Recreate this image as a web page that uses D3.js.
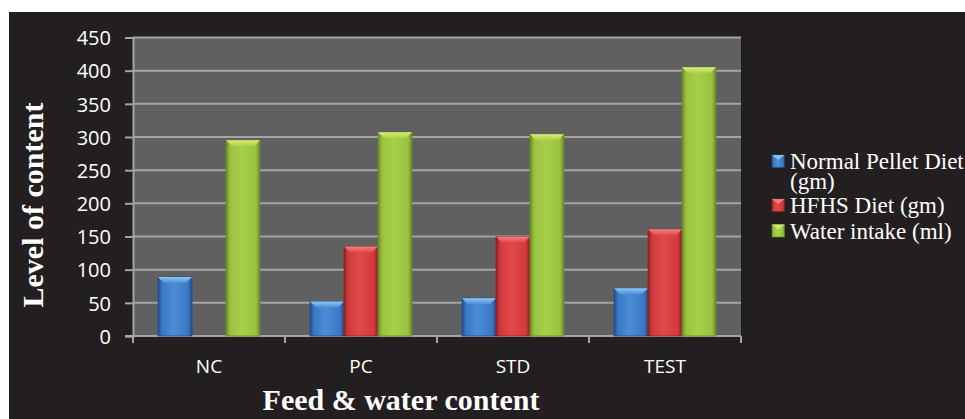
<!DOCTYPE html>
<html>
<head>
<meta charset="utf-8">
<script src="https://cdn.jsdelivr.net/npm/d3@7"></script>
<style>
  html, body { margin: 0; padding: 0; background: #ffffff; }
  svg { display: block; }
</style>
</head>
<body>
<svg id="chart" width="965" height="419"></svg>
<script>
// Groups on the x axis
const categories = ["NC", "PC", "STD", "TEST"];
// Series names (legend order)
const seriesNames = ["Normal Pellet Diet (gm)", "HFHS Diet (gm)", "Water intake (ml)"];
// Values per group
const normalPelletDiet = [89, 52, 57, 72];
const hfhsDiet = [null, 135, 150, 161];
const waterIntake = [295, 307, 304, 405];
// Y axis ticks
const yTicks = [0, 50, 100, 150, 200, 250, 300, 350, 400, 450];

const seriesValues = [normalPelletDiet, hfhsDiet, waterIntake];
const palette = [
  { main: "#3a78c4", edge: "#254d88", light: "#4d8dd6", top: "#8cc8f4" },
  { main: "#d2393b", edge: "#8c2124", light: "#df4949", top: "#f28282" },
  { main: "#99c23f", edge: "#6a8927", light: "#a7cf49", top: "#dceb78" }
];

const svg = d3.select("#chart");
const W = 965, H = 419;
const serif = "'Liberation Serif', 'Times New Roman', serif";
const sans = "'Open Sans', sans-serif";

// dark panel
svg.append("rect").attr("x", 9).attr("y", 12).attr("width", W - 9).attr("height", H - 12)
  .attr("fill", "#231f20");

const plot = { left: 133, right: 741, top: 37.5, bottom: 336 };

const x0 = d3.scaleBand().domain(categories).range([plot.left, plot.right]).padding(0);
const x1 = d3.scaleBand().domain(d3.range(seriesNames.length))
  .range([25, x0.bandwidth() - 25]).padding(0);
const y = d3.scaleLinear().domain([0, 450]).range([plot.bottom, plot.top]);

const defs = svg.append("defs");
palette.forEach((c, i) => {
  const g = defs.append("linearGradient").attr("id", "bar" + i)
    .attr("x1", "0%").attr("x2", "100%").attr("y1", "0%").attr("y2", "0%");
  g.append("stop").attr("offset", "0%").attr("stop-color", c.edge);
  g.append("stop").attr("offset", "12%").attr("stop-color", c.main);
  g.append("stop").attr("offset", "45%").attr("stop-color", c.light);
  g.append("stop").attr("offset", "88%").attr("stop-color", c.main);
  g.append("stop").attr("offset", "100%").attr("stop-color", c.edge);
  const t = defs.append("linearGradient").attr("id", "top" + i)
    .attr("x1", "0%").attr("x2", "0%").attr("y1", "0%").attr("y2", "100%");
  t.append("stop").attr("offset", "0%").attr("stop-color", c.top);
  t.append("stop").attr("offset", "100%").attr("stop-color", c.light);
});

// plot background
svg.append("rect").attr("x", plot.left).attr("y", plot.top)
  .attr("width", plot.right - plot.left).attr("height", plot.bottom - plot.top)
  .attr("fill", "#606060");

// horizontal gridlines
svg.append("g").selectAll("line").data(yTicks.filter(v => v > 0)).join("line")
  .attr("x1", plot.left).attr("x2", plot.right)
  .attr("y1", d => y(d)).attr("y2", d => y(d))
  .attr("stroke", "#a4a4a4").attr("stroke-width", 2);

// y axis
const yAxis = d3.axisLeft(y).tickValues(yTicks).tickSize(8).tickPadding(14);
const gy = svg.append("g").attr("transform", `translate(${plot.left},0)`).call(yAxis);
gy.select(".domain").attr("stroke", "#a4a4a4").attr("stroke-width", 2);
gy.selectAll(".tick line").attr("stroke", "#a4a4a4").attr("stroke-width", 2);
gy.selectAll(".tick text").attr("fill", "#ffffff")
  .style("font-family", sans).style("font-size", "20px")
  .attr("dy", "0.36em");

// x axis with ticks at group boundaries
const xAxisG = svg.append("g").attr("transform", `translate(0,${plot.bottom})`);
const boundaries = categories.map(c => x0(c)).concat([x0(categories[categories.length - 1]) + x0.bandwidth()]);
xAxisG.append("line").attr("x1", plot.left - 8).attr("x2", plot.right)
  .attr("y1", 0).attr("y2", 0).attr("stroke", "#a4a4a4").attr("stroke-width", 2);
xAxisG.selectAll("line.tk").data(boundaries).join("line").attr("class", "tk")
  .attr("x1", d => d).attr("x2", d => d).attr("y1", 0).attr("y2", 7)
  .attr("stroke", "#a4a4a4").attr("stroke-width", 2);
xAxisG.selectAll("text").data(categories).join("text")
  .attr("x", d => x0(d) + x0.bandwidth() / 2).attr("y", 37)
  .attr("text-anchor", "middle").attr("fill", "#ffffff")
  .style("font-family", sans).style("font-size", "19px")
  .text(d => d);

// bars
const bev = 6;
seriesValues.forEach((vals, si) => {
  const g = svg.append("g");
  categories.forEach((cat, ci) => {
    const v = vals[ci];
    if (v == null) return;
    const bx = x0(cat) + x1(si), bw = x1.bandwidth();
    const by = y(v), bh = y(0) - y(v);
    g.append("rect").attr("x", bx).attr("y", by).attr("width", bw).attr("height", bh)
      .attr("fill", `url(#bar${si})`).attr("stroke", palette[si].edge).attr("stroke-width", 0.8);
    // top bevel
    g.append("path")
      .attr("d", `M${bx},${by}L${bx + bw},${by}L${bx + bw - bev},${by + bev}L${bx + bev},${by + bev}Z`)
      .attr("fill", `url(#top${si})`);
  });
});

// axis titles
svg.append("text").attr("x", 401).attr("y", 410).attr("text-anchor", "middle")
  .attr("fill", "#ffffff").style("font-family", serif)
  .style("font-weight", "bold").style("font-size", "30px").text("Feed & water content");
svg.append("text").attr("transform", "translate(43,205) rotate(-90)").attr("text-anchor", "middle")
  .attr("fill", "#ffffff").style("font-family", serif)
  .style("font-weight", "bold").style("font-size", "30px").text("Level of content");

// legend
const legendRows = [
  { lines: ["Normal Pellet Diet", "(gm)"], baseline: 169 },
  { lines: ["HFHS Diet (gm)"], baseline: 213 },
  { lines: ["Water intake (ml)"], baseline: 238.5 }
];
const lg = svg.append("g");
legendRows.forEach((row, i) => {
  const sy = row.baseline - 14;
  lg.append("rect").attr("x", 772).attr("y", sy).attr("width", 12.5).attr("height", 12.5)
    .attr("fill", `url(#bar${i})`).attr("stroke", palette[i].edge).attr("stroke-width", 0.6);
  lg.append("path").attr("d", `M772,${sy}L784.5,${sy}L778.25,${sy + 5}Z`)
    .attr("fill", palette[i].top).attr("opacity", 0.9);
  row.lines.forEach((ln, k) => {
    lg.append("text").attr("x", 790).attr("y", row.baseline + k * 19.5).attr("fill", "#ffffff")
      .style("font-family", serif).style("font-size", "23px").text(ln);
  });
});
</script>
</body>
</html>
